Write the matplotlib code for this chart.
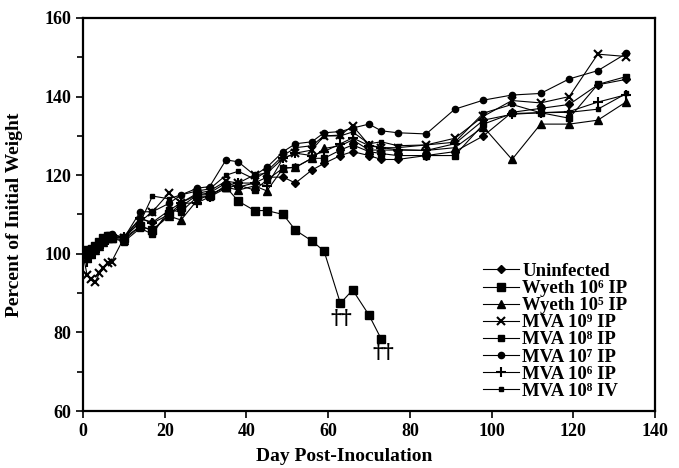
import matplotlib
matplotlib.use("Agg")
import matplotlib.pyplot as plt
from matplotlib.ticker import MultipleLocator

# ---------------------------------------------------------------------
# Weight change after inoculation (percent of initial weight)
# ---------------------------------------------------------------------

days = [0, 1, 2, 3, 4, 5, 6, 7, 10, 14, 17, 21, 24, 28, 31, 35, 38, 42, 45,
        49, 52, 56, 59, 63, 66, 70, 73, 77, 84, 91, 98, 105, 112, 119, 126, 133]

uninfected = [100, 100.5, 101, 101.5, 102, 103, 104, 104.5, 104, 109, 108, 111, 113,
              115, 115.5, 118, 117, 118, 119.5, 119.5, 118, 121.3, 123, 125, 126,
              125, 124, 124, 125, 126, 130, 136, 137, 138, 143, 144.4]
wyeth5 = [100, 99, 100, 101, 102, 103, 104, 104, 103.5, 107, 106, 109.6, 108.6,
          113.7, 115, 117, 116.2, 117.3, 116, 121.8, 122, 124.3, 126.8, 127.5, 129,
          126.4, 126.4, 126.4, 126.3, 127, 132.3, 124, 133, 133, 134, 138.7]
mva9_ip = [100, 94.6, 93.5, 92.9, 95, 96.3, 97.6, 98, 104, 108.2, 110.7, 115.4, 113,
           115.4, 116, 118.5, 118, 120.1, 120.5, 124.3, 125.6, 126.4, 130, 130.2,
           132.6, 127.7, 127, 127, 127.7, 129.4, 135, 139, 138.4, 140, 150.8, 150.2]
mva8_ip = [100, 101, 101.5, 102, 102.5, 103, 104, 104, 103.1, 106.5, 105, 111.1, 110.7,
           114.5, 114.5, 116.7, 117.5, 116.2, 118.8, 121.8, 122, 124.3, 124.3, 126.4,
           127.7, 126, 125.5, 125, 125, 125, 133, 135.7, 135.9, 134.5, 143.1, 145.1]
mva7_ip = [100, 101, 101, 102, 103, 104, 104.5, 105, 104, 110.7, 110.7, 112.8, 115,
           116.7, 117.1, 123.9, 123.4, 120, 122, 126, 128, 128.5, 130.8, 131.1, 132,
           133, 131.3, 130.8, 130.5, 136.8, 139.1, 140.4, 140.8, 144.5, 146.6, 151]
mva6_ip = [100, 98, 99, 100.5, 101.5, 102.5, 103.5, 104, 104.4, 109, 107.8, 110, 112.8,
           113, 114.5, 117.5, 118, 118, 117.3, 124.3, 125.6, 125, 126, 128, 129.5,
           127.5, 127, 126.5, 126.3, 128, 134, 135.5, 135.9, 136.2, 138.6, 140.5]
mva8_iv = [100, 100, 101, 102, 103, 104, 105, 105, 104.2, 108, 114.7, 114, 115, 116,
           116.5, 120, 121, 119, 121, 125, 127, 127.5, 130, 130, 131, 128, 128.5,
           127.5, 127.7, 128.4, 135.8, 138, 135.9, 136, 136.8, 140.8]

# Wyeth 10^6 IP group died out by day 73
wyeth6_days = [0, 1, 2, 3, 4, 5, 6, 7, 10, 14, 17, 21, 24, 28, 31, 35, 38, 42, 45,
               49, 52, 56, 59, 63, 66, 70, 73]
wyeth6 = [100, 101, 101, 102, 103, 104, 104.5, 104, 104, 107, 106, 110, 112, 115, 115,
          117, 113.4, 111, 111, 110, 106, 103.3, 100.7, 87.4, 90.8, 84.4, 78.3]

death_days = [63.3, 73.5]
death_levels = [83.6, 75.1]

plt.rcParams["font.family"] = ["Liberation Serif", "DejaVu Serif"]
plt.rcParams["font.weight"] = "bold"

fig = plt.figure(figsize=(6.79, 4.68), dpi=100)
ax = fig.add_axes([83 / 679, 1 - 411 / 468, 572 / 679, 393 / 468])

line_kw = dict(color="black", linewidth=0.8, markerfacecolor="black",
               markeredgecolor="black")

# unicode superscripts keep every legend row the same height
ax.plot(days, uninfected, marker="D", markersize=4.5, label="Uninfected", **line_kw)
ax.plot(wyeth6_days, wyeth6, marker="s", markersize=6, label="Wyeth 10\u2076 IP", **line_kw)
ax.plot(days, wyeth5, marker="^", markersize=5.5, label="Wyeth 10\u2075 IP", **line_kw)
ax.plot(days, mva9_ip, marker="x", markersize=6, markeredgewidth=1.5,
        label="MVA 10\u2079 IP", color="black", linewidth=0.8)
ax.plot(days, mva8_ip, marker="s", markersize=4.5, label="MVA 10\u2078 IP", **line_kw)
ax.plot(days, mva7_ip, marker="o", markersize=4.5, label="MVA 10\u2077 IP", **line_kw)
ax.plot(days, mva6_ip, marker="+", markersize=7, markeredgewidth=1.5,
        label="MVA 10\u2076 IP", color="black", linewidth=0.8)
ax.plot(days, mva8_iv, marker="s", markersize=3, label="MVA 10\u2078 IV", **line_kw)

for d, lvl in zip(death_days, death_levels):
    ax.text(d, lvl, "\u2020\u2020", ha="center", va="center", fontsize=15,
            fontweight="bold", family="DejaVu Serif")

ax.set_xlim(0, 140)
ax.set_ylim(60, 160)
ax.xaxis.set_major_locator(MultipleLocator(20))
ax.yaxis.set_major_locator(MultipleLocator(20))
ax.yaxis.set_minor_locator(MultipleLocator(10))
ax.tick_params(axis="both", which="both", direction="out", width=1.2, labelsize=13)
ax.tick_params(axis="both", which="major", length=5)
ax.tick_params(axis="y", which="minor", length=4)
for lbl in ax.get_xticklabels() + ax.get_yticklabels():
    lbl.set_fontweight("bold")
for spine in ax.spines.values():
    spine.set_linewidth(1.6)

ax.set_xlabel("Day Post-Inoculation", fontsize=14, fontweight="bold")
ax.set_ylabel("Percent of Initial Weight", fontsize=14, fontweight="bold")
ax.xaxis.set_label_coords(0.457, -0.095)
ax.yaxis.set_label_coords(-0.105, 0.5)

leg = ax.legend(loc="lower right", bbox_to_anchor=(0.975, -0.005), frameon=False,
                fontsize=13.5, handlelength=1.9, handletextpad=0.2,
                labelspacing=0.0, borderpad=0.2)
for t in leg.get_texts():
    t.set_fontweight("bold")

fig.savefig("out.png", dpi=100)
